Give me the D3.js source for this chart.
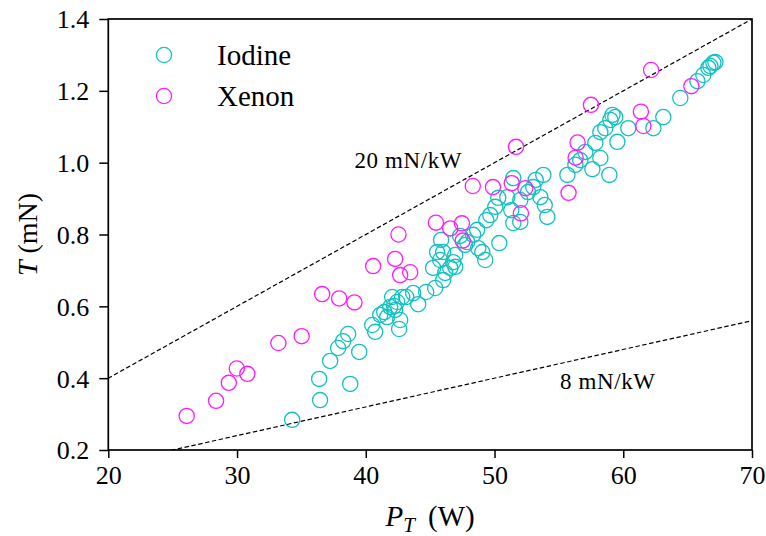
<!DOCTYPE html>
<html><head><meta charset="utf-8">
<script src="https://cdn.jsdelivr.net/npm/d3@7"></script>
<style>body{margin:0;background:#fff}svg{display:block}</style>
</head><body><svg id="c" width="766" height="536"></svg>
<script>
// ---- data ----
const iodineP = [34.28,36.45,36.38,38.79,37.23,37.85,38.24,38.63,39.49,40.50,40.73,41.12,41.66,41.90,42.44,42.05,42.83,42.59,43.14,43.68,44.07,44.69,45.39,46.01,46.17,46.95,45.78,46.01,46.95,46.79,47.72,48.34,48.65,49.28,49.05,50.37,49.36,50.06,50.29,51.30,51.46,52.00,50.99,53.01,53.56,54.10,53.79,55.66,56.28,57.05,57.60,57.83,58.22,58.92,58.22,59.00,59.38,59.54,60.39,62.34,63.11,64.43,65.76,66.61,67.00,67.16,66.22,42.67,42.28,45.54,46.56,48.73,51.46,47.88,49.67,52.0,52.6,53.2,53.9,58.6,59.16,56.66,45.23,45.85,47.33,42.2,41.43,66.77];
const iodineT = [0.284,0.339,0.398,0.384,0.448,0.484,0.503,0.523,0.473,0.548,0.529,0.576,0.570,0.598,0.612,0.626,0.626,0.537,0.626,0.637,0.606,0.640,0.651,0.673,0.693,0.710,0.729,0.751,0.743,0.723,0.771,0.799,0.813,0.729,0.751,0.776,0.840,0.877,0.902,0.868,0.957,0.835,0.904,0.932,0.904,0.849,0.966,0.966,0.994,1.030,0.982,1.055,1.013,0.966,1.085,1.119,1.127,1.058,1.096,1.096,1.127,1.180,1.227,1.264,1.278,1.280,1.244,0.562,0.590,0.751,0.707,0.762,0.832,0.779,0.854,0.896,0.918,0.952,0.882,1.096,1.133,1.007,0.707,0.785,0.796,0.601,0.584,1.269];
const xenonP = [26.09,28.37,29.36,29.98,30.80,33.21,35.02,36.61,37.93,39.12,40.57,42.28,42.54,42.67,43.45,45.45,46.56,47.47,47.53,48.31,49.88,51.34,51.67,52.05,52.39,55.75,56.30,56.45,57.49,61.37,61.56,62.16,65.29];
const xenonT = [0.295,0.337,0.387,0.427,0.412,0.498,0.517,0.634,0.622,0.611,0.712,0.732,0.800,0.687,0.695,0.833,0.817,0.831,0.783,0.935,0.932,0.943,1.044,0.859,0.929,0.916,1.014,1.056,1.161,1.142,1.102,1.258,1.213];
const seriesNames = ["Iodine","Xenon"];
const seriesColors = ["#12c2c2","#ff1aff"];
const xTicks = [20,30,40,50,60,70];
const yTicks = [0.2,0.4,0.6,0.8,1.0,1.2,1.4];
const rateValues = [20, 8];          // mN/kW reference lines
const rateLabels = ["20 mN/kW","8 mN/kW"];
const rateLabelPos = [[43.3,0.985],[58.8,0.37]]; // label anchor (P, T)

// ---- layout ----
const L=108.3, R=752, T=19, B=450;
const svg = d3.select("#c");
const x = d3.scaleLinear().domain([20,70]).range([L,R]);
const y = d3.scaleLinear().domain([0.2,1.4]).range([B,T]);
const font = "'Liberation Serif','Times New Roman',serif";

svg.append("defs").append("clipPath").attr("id","clip")
  .append("rect").attr("x",L).attr("y",T).attr("width",R-L).attr("height",B-T);

// reference lines
const g = svg.append("g").attr("clip-path","url(#clip)");
rateValues.forEach(r=>{
  const pts=[[10,r*10/1000],[80,r*80/1000]];
  g.append("line")
    .attr("x1",x(pts[0][0])).attr("y1",y(pts[0][1]))
    .attr("x2",x(pts[1][0])).attr("y2",y(pts[1][1]))
    .attr("stroke","#000").attr("stroke-width",1.2).attr("stroke-dasharray","4.5,2.5");
});

// points
const series=[{P:iodineP,T:iodineT},{P:xenonP,T:xenonT}];
series.forEach((s,i)=>{
  g.selectAll(null).data(s.P.map((p,j)=>[p,s.T[j]])).enter().append("circle")
    .attr("cx",d=>x(d[0])).attr("cy",d=>y(d[1])).attr("r",7.6)
    .attr("fill","none").attr("stroke",seriesColors[i]).attr("stroke-width",1.3);
});

// rate labels
rateLabels.forEach((t,i)=>{
  svg.append("text").attr("x",x(rateLabelPos[i][0])).attr("y",y(rateLabelPos[i][1]))
    .attr("text-anchor","middle").attr("font-family",font).attr("font-size",23)
    .attr("letter-spacing",0.6).text(t);
});

// axes
const xa = svg.append("g").attr("transform",`translate(0,${B})`)
  .call(d3.axisBottom(x).tickValues(xTicks).tickFormat(d3.format("d")).tickSize(8).tickPadding(7));
const ya = svg.append("g").attr("transform",`translate(${L},0)`)
  .call(d3.axisLeft(y).tickValues(yTicks).tickFormat(d3.format(".1f")).tickSize(9).tickPadding(10));
[xa,ya].forEach(a=>{
  a.select(".domain").remove();
  a.selectAll("line").attr("stroke","#000").attr("stroke-width",1.5);
  a.selectAll("text").attr("font-family",font).attr("font-size",26).attr("fill","#000");
});
ya.selectAll("text").attr("dy","0.34em");
xa.selectAll("text").attr("dy","0.73em");

// frame
svg.append("rect").attr("x",L).attr("y",T).attr("width",R-L).attr("height",B-T)
  .attr("fill","none").attr("stroke","#000").attr("stroke-width",1.7);

// axis labels
const xl = svg.append("text").attr("x",(L+R)/2).attr("y",526).attr("text-anchor","middle")
  .attr("font-family",font).attr("font-size",29);
xl.append("tspan").attr("font-style","italic").text("P");
xl.append("tspan").attr("font-style","italic").attr("font-size",21).attr("dy",6).text("T");
xl.append("tspan").attr("dy",-6).text("\u00a0\u2009(W)");

const yl = svg.append("text").attr("transform",`translate(37,${(T+B)/2}) rotate(-90)`)
  .attr("text-anchor","middle").attr("font-family",font).attr("font-size",28);
yl.append("tspan").attr("font-style","italic").text("T");
yl.append("tspan").text("\u00a0(mN)");

// legend
seriesNames.forEach((n,i)=>{
  const cy = 55 + i*41;
  svg.append("circle").attr("cx",164).attr("cy",cy).attr("r",7.6)
    .attr("fill","none").attr("stroke",seriesColors[i]).attr("stroke-width",1.3);
  svg.append("text").attr("x",217).attr("y",cy+10).attr("font-family",font)
    .attr("font-size",29).text(n);
});
</script></body></html>
